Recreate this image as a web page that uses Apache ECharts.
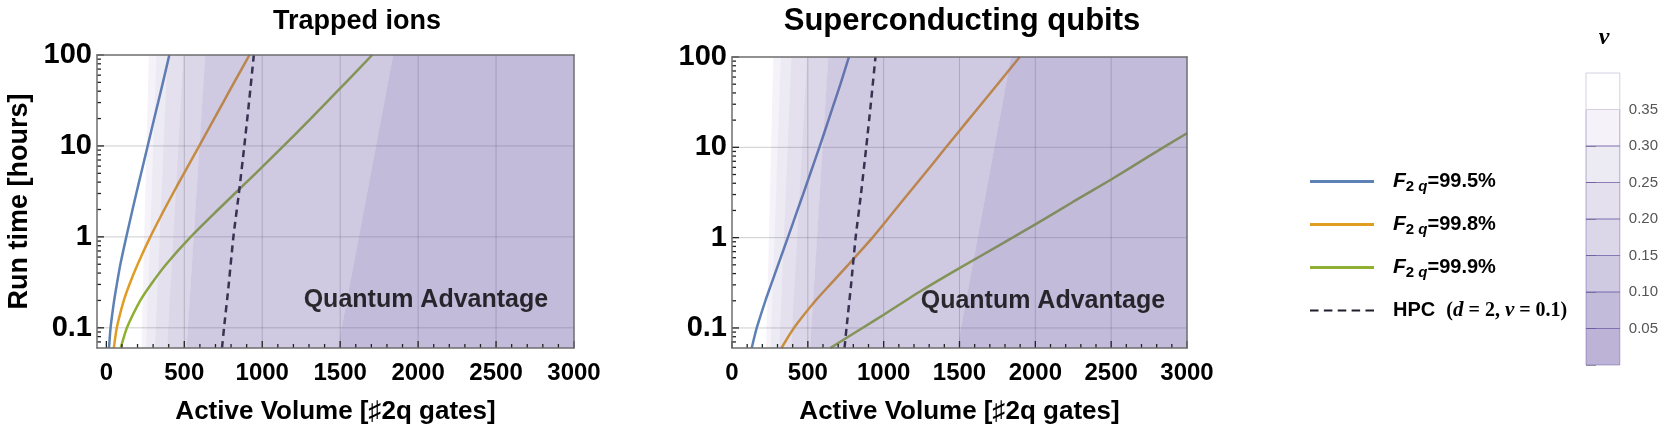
<!DOCTYPE html>
<html><head><meta charset="utf-8">
<script src="https://cdn.jsdelivr.net/npm/echarts@6/dist/echarts.min.js"></script>
<style>html,body{margin:0;padding:0;background:#fff}#c{width:1661px;height:431px}</style>
</head><body><div id="c"></div>
<script>
// ---------------- data ----------------
const xTickLabels = [0, 500, 1000, 1500, 2000, 2500, 3000];
const xMinorTicks = [100, 200, 300, 400, 600, 700, 800, 900, 1100, 1200, 1300, 1400, 1600, 1700, 1800, 1900, 2100, 2200, 2300, 2400, 2600, 2700, 2800, 2900];
const xGridLines = [500, 1000, 1500, 2000, 2500];
const yTickLabels = [0.1, 1, 10, 100];
const yMinorTicks = [0.07, 0.08, 0.09, 0.2, 0.3, 0.4, 0.5, 0.6, 0.7, 0.8, 0.9, 2, 3, 4, 5, 6, 7, 8, 9, 20, 30, 40, 50, 60, 70, 80, 90];
const yGridLines = [0.1, 1, 10];

// Trapped ions: [active volume, run time (hours)]
const ionsF995 = [[17, 0.06], [27, 0.1], [50, 0.2], [67, 0.3], [90, 0.5], [128, 1], [168, 2], [192, 3], [223, 5], [265, 10], [307, 20], [332, 30], [363, 50], [404, 100]];
const ionsF998 = [[48, 0.06], [67, 0.1], [112, 0.2], [148, 0.3], [201, 0.5], [282, 1], [372, 2], [427, 3], [498, 5], [596, 10], [692, 20], [749, 30], [820, 50], [918, 100]];
const ionsF999 = [[92, 0.06], [132, 0.1], [218, 0.2], [286, 0.3], [384, 0.5], [541, 1], [718, 2], [824, 3], [958, 5], [1137, 10], [1311, 20], [1411, 30], [1537, 50], [1705, 100]];
// Superconducting qubits
const scF995 = [[130, 0.06], [163, 0.1], [220, 0.2], [257, 0.3], [304, 0.5], [368, 1], [431, 2], [468, 3], [514, 5], [576, 10], [636, 20], [671, 30], [715, 50], [771, 100]];
const scF998 = [[326, 0.06], [408, 0.1], [550, 0.2], [645, 0.3], [766, 0.5], [926, 1], [1072, 2], [1158, 3], [1266, 5], [1411, 10], [1557, 20], [1643, 30], [1751, 50], [1897, 100]];
const scF999 = [[648, 0.06], [860, 0.1], [1000, 0.14], [1250, 0.26], [1500, 0.46], [1750, 0.8], [2000, 1.4], [2250, 2.5], [2500, 4.4], [2750, 8], [3000, 14.3]];
// HPC (d = 2, v = 0.1)
const hpcCurve = [[742, 0.06], [755, 0.1], [785, 0.3], [815, 1], [850, 3], [885, 10], [915, 30], [946, 100]];

// contour boundaries of v (same in both panels): x at bottom (t=0.06) and at top (t=100)
const contourLevels = [0.35, 0.30, 0.25, 0.20, 0.15, 0.10];
const contourXBottom = [225, 255, 312, 390, 515, 1485];
const contourXTop = [272, 322, 392, 495, 635, 1840];
// colour bar
const colorbarLevels = [0.00, 0.05, 0.10, 0.15, 0.20, 0.25, 0.30, 0.35];
const colorbarTickLabels = ['0.05', '0.10', '0.15', '0.20', '0.25', '0.30', '0.35'];

// ---------------- style ----------------
const SANS = "'Liberation Sans', Arial, 'DejaVu Sans', sans-serif";
const SERIF = "'Liberation Serif', 'DejaVu Serif', serif";
const Y_MIN = 0.06, Y_MAX = 100, X_MAX = 3000;
const PURPLE = [110, 90, 165];
const bandAlpha = [0.07, 0.13, 0.19, 0.25, 0.33, 0.41];
const cbAlpha = [0.46, 0.41, 0.33, 0.25, 0.19, 0.13, 0.07, 0.0];
const rgba = a => `rgba(${PURPLE[0]},${PURPLE[1]},${PURPLE[2]},${a})`;
const COLORS = { b: '#5e81b5', o: '#e19c24', g: '#8fb032', h: '#1e1e2a' };
const NAMES = { b: 'F995', o: 'F998', g: 'F999', h: 'HPC' };

const chart = echarts.init(document.getElementById('c'), null, { renderer: 'canvas' });

function bandSeries(ax) {
  return {
    type: 'custom', xAxisIndex: ax, yAxisIndex: ax, z: 5, silent: true, clip: true,
    encode: { x: 0, y: 1 },
    data: contourLevels.map((lv, i) => [contourXBottom[i], Y_MIN]),
    renderItem: (params, api) => {
      const i = params.dataIndex;
      const last = i === contourLevels.length - 1;
      const xb1 = last ? X_MAX : contourXBottom[i + 1];
      const xt1 = last ? X_MAX : contourXTop[i + 1];
      const pts = [api.coord([contourXBottom[i], Y_MIN]), api.coord([contourXTop[i], Y_MAX]),
                   api.coord([xt1, Y_MAX]), api.coord([xb1, Y_MIN])];
      return { type: 'polygon', shape: { points: pts }, style: { fill: rgba(bandAlpha[i]) } };
    }
  };
}
function gridSeries(ax, xMin) {
  const data = [];
  xGridLines.forEach(v => data.push([0, v, Y_MIN]));
  yGridLines.forEach(v => data.push([1, xMin, v]));
  return {
    type: 'custom', xAxisIndex: ax, yAxisIndex: ax, z: 1, silent: true, clip: false,
    encode: { x: 1, y: 2 }, data,
    renderItem: (params, api) => {
      const k = api.value(0);
      const p = api.coord([api.value(1), api.value(2)]);
      const q = k === 0 ? api.coord([api.value(1), Y_MAX]) : api.coord([X_MAX, api.value(2)]);
      return { type: 'line', shape: { x1: p[0], y1: p[1], x2: q[0], y2: q[1] }, style: { stroke: 'rgba(0,0,0,0.2)', lineWidth: 1 } };
    }
  };
}
function tickSeries(ax, xMin) {
  const data = [];
  xTickLabels.forEach(v => data.push([0, v, Y_MIN]));
  xMinorTicks.forEach(v => data.push([1, v, Y_MIN]));
  yTickLabels.forEach(v => data.push([2, xMin, v]));
  yMinorTicks.forEach(v => data.push([3, xMin, v]));
  return {
    type: 'custom', xAxisIndex: ax, yAxisIndex: ax, z: 20, silent: true, clip: false,
    encode: { x: 1, y: 2 }, data,
    renderItem: (params, api) => {
      const k = api.value(0);
      const p = api.coord([api.value(1), api.value(2)]);
      const len = (k === 0 || k === 2) ? 7 : 4;
      const shape = k < 2 ? { x1: p[0], y1: p[1], x2: p[0], y2: p[1] - len } : { x1: p[0], y1: p[1], x2: p[0] + len, y2: p[1] };
      return { type: 'line', shape, style: { stroke: '#222', lineWidth: 1.3 } };
    }
  };
}
function curve(ax, key, data) {
  const dashed = key === 'h';
  return {
    type: 'line', name: NAMES[key], xAxisIndex: ax, yAxisIndex: ax, data, z: 2,
    smooth: 0.2, showSymbol: false, symbol: 'none', silent: true, clip: true,
    lineStyle: { color: COLORS[key], width: 2.5, type: dashed ? [7, 5] : 'solid' },
    itemStyle: { color: COLORS[key] }
  };
}
function annot(ax) {
  return {
    type: 'scatter', xAxisIndex: ax, yAxisIndex: ax, z: 30, silent: true, symbolSize: 0,
    data: [[2050, 0.2]],
    label: { show: true, position: 'inside', formatter: 'Quantum Advantage', color: '#000',
             fontFamily: SANS, fontWeight: 'bold', fontSize: 25 }
  };
}
const frameLine = { show: true, onZero: false, lineStyle: { color: '#6e6e6e', width: 1.5 } };
function logLabel(v) {
  for (const t of yTickLabels) if (Math.abs(v - t) / t < 1e-6) return String(t);
  return '';
}
function xAxes(gi, xMin) {
  return [{
    gridIndex: gi, type: 'value', min: xMin, max: X_MAX, splitNumber: 6, z: 20,
    axisLine: frameLine, axisTick: { show: false }, splitLine: { show: false },
    axisLabel: { margin: 13, formatter: v => (v < 0 ? '' : String(v)), fontFamily: SANS, fontWeight: 'bold', fontSize: 24, color: '#000' },
    name: 'Active Volume [\u266F2q gates]', nameLocation: 'middle', nameGap: 51,
    nameTextStyle: { fontFamily: SANS, fontWeight: 'bold', fontSize: 26, color: '#000' }
  }, {
    gridIndex: gi, type: 'value', position: 'top', min: 0, max: 1, z: 20,
    axisLine: frameLine, axisTick: { show: false }, axisLabel: { show: false }, splitLine: { show: false }
  }];
}
function yAxes(gi, withName) {
  return [Object.assign({
    gridIndex: gi, type: 'log', logBase: 10, min: Y_MIN, max: Y_MAX, z: 20,
    axisLine: frameLine, axisTick: { show: false }, splitLine: { show: false },
    axisLabel: { margin: 5, formatter: logLabel, fontFamily: SANS, fontWeight: 'bold', fontSize: 29, color: '#000' }
  }, withName ? {
    name: 'Run time [hours]', nameLocation: 'middle', nameGap: 64,
    nameTextStyle: { fontFamily: SANS, fontWeight: 'bold', fontSize: 27, color: '#000' }
  } : {}), {
    gridIndex: gi, type: 'value', position: 'right', min: 0, max: 1, z: 20,
    axisLine: frameLine, axisTick: { show: false }, axisLabel: { show: false }, splitLine: { show: false }
  }];
}

const legendText = {
  F995: '{f|F}{s|2 }{q|q}{t|=99.5%}',
  F998: '{f|F}{s|2 }{q|q}{t|=99.8%}',
  F999: '{f|F}{s|2 }{q|q}{t|=99.9%}',
  HPC: '{t|HPC  }{p|(}{i|d}{p| = 2, }{i|\u03BD}{p| = 0.1)}'
};
const DASH_ICON = 'path://M0,0h8v2h-8zM13,0h8v2h-8zM26,0h8v2h-8zM39,0h8v2h-8zM52,0h8v2h-8z';

const option = {
  backgroundColor: '#fff',
  animation: false,
  grid: [
    { left: 97, top: 55, width: 477, height: 293 },
    { left: 732, top: 57, width: 455, height: 291 },
    { left: 1586, top: 73, width: 34, height: 292 }
  ],
  xAxis: [
    ...xAxes(0, -60), ...xAxes(1, 0),
    { gridIndex: 2, type: 'value', min: 0, max: 1, show: false }
  ],
  yAxis: [
    ...yAxes(0, true), ...yAxes(1, false),
    { gridIndex: 2, type: 'value', min: 0, max: 0.4, interval: 0.05, position: 'right',
      axisLine: { show: false }, splitLine: { show: false },
      axisTick: { show: true, length: 10, lineStyle: { color: '#a0a0a0' } },
      axisLabel: { margin: 9, color: '#555', fontFamily: SANS, fontSize: 15,
        formatter: v => { const s = v.toFixed(2); return colorbarTickLabels.indexOf(s) >= 0 ? s : ''; } } }
  ],
  legend: {
    orient: 'vertical', left: 1305, top: 166, itemWidth: 64, itemHeight: 3, itemGap: 20,
    data: [
      { name: 'F995', icon: 'rect' }, { name: 'F998', icon: 'rect' },
      { name: 'F999', icon: 'rect' }, { name: 'HPC', icon: DASH_ICON }
    ],
    formatter: n => legendText[n],
    textStyle: {
      fontFamily: SANS, fontSize: 20, fontWeight: 'bold', color: '#000', padding: [0, 0, 0, 14],
      rich: {
        f: { fontFamily: SANS, fontStyle: 'italic', fontWeight: 'bold', fontSize: 21, color: '#000' },
        s: { fontFamily: SANS, fontWeight: 'bold', fontSize: 15, color: '#000', padding: [10, 0, 0, 0] },
        q: { fontFamily: SANS, fontStyle: 'italic', fontWeight: 'bold', fontSize: 15, color: '#000', padding: [10, 0, 0, 0] },
        t: { fontFamily: SANS, fontWeight: 'bold', fontSize: 20, color: '#000' },
        p: { fontFamily: SERIF, fontWeight: 'bold', fontSize: 20, color: '#000' },
        i: { fontFamily: SERIF, fontStyle: 'italic', fontWeight: 'bold', fontSize: 21, color: '#000' }
      }
    }
  },
  graphic: [
    { type: 'text', x: 357, y: 8, style: { text: 'Trapped ions', font: `bold 27px ${SANS}`, fill: '#000', textAlign: 'center' } },
    { type: 'text', x: 962, y: 6, style: { text: 'Superconducting qubits', font: `bold 31px ${SANS}`, fill: '#000', textAlign: 'center' } },
    { type: 'text', x: 1604, y: 26, style: { text: '\u03BD', font: `italic bold 24px ${SERIF}`, fill: '#000', textAlign: 'center' } }
  ],
  series: [
    gridSeries(0, -60), gridSeries(2, 0),
    curve(0, 'b', ionsF995), curve(0, 'o', ionsF998), curve(0, 'g', ionsF999), curve(0, 'h', hpcCurve),
    curve(2, 'b', scF995), curve(2, 'o', scF998), curve(2, 'g', scF999), curve(2, 'h', hpcCurve),
    bandSeries(0), bandSeries(2),
    tickSeries(0, -60), tickSeries(2, 0),
    annot(0), annot(2),
    {
      type: 'custom', xAxisIndex: 4, yAxisIndex: 4, silent: true, clip: false, z: 5,
      encode: { x: 0, y: 1 },
      data: colorbarLevels.map(lv => [0.5, lv]),
      renderItem: (params, api) => {
        const i = params.dataIndex;
        const lv = api.value(1);
        const p0 = api.coord([0, lv]);
        const p1 = api.coord([1, lv + 0.05]);
        return { type: 'rect', shape: { x: p0[0], y: p1[1], width: p1[0] - p0[0], height: p0[1] - p1[1] },
                 style: { fill: cbAlpha[i] > 0 ? rgba(cbAlpha[i]) : '#fff', stroke: i === colorbarLevels.length - 1 ? '#d4d0e0' : 'rgba(100,80,160,0.45)', lineWidth: 1 } };
      }
    }
  ]
};
chart.setOption(option);
</script>
</body></html>
